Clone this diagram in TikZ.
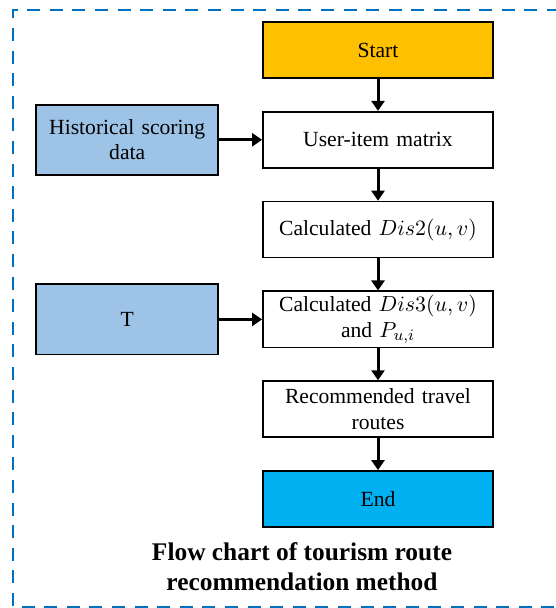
\documentclass[tikz,border=0pt]{standalone}
\usepackage{fontspec}
\setmainfont{Liberation Serif}
\usepackage{amsmath}
\usepackage{xcolor}
\usetikzlibrary{arrows.meta, positioning}
\definecolor{startorange}{HTML}{FFC000}
\definecolor{endblue}{HTML}{00B0F0}
\definecolor{inputblue}{HTML}{9DC3E6}
\definecolor{frameblue}{HTML}{0070C0}

\begin{document}
\begin{tikzpicture}[
  x=1pt, y=1pt,
  node distance=16pt and 21.5pt,
  proc/.style={
    rectangle, draw=black, line width=0.9pt,
    minimum width=115pt, minimum height=28pt,
    text width=108pt, align=center, inner sep=0pt,
    font=\fontsize{10.8}{12.6}\selectfont
  },
  inbox/.style={
    rectangle, draw=black, line width=0.9pt, fill=inputblue,
    minimum width=91pt, minimum height=35pt,
    text width=85pt, align=center, inner sep=0pt,
    font=\fontsize{10.8}{12.6}\selectfont
  },
  arr/.style={-{Triangle[length=5pt, width=6.5pt]}, line width=1.5pt, black},
  frame/.style={draw=frameblue, line width=1.3pt, dash pattern=on 6.5pt off 4.8pt},
  caption/.style={font=\fontsize{12.7}{15}\selectfont\bfseries, align=center}
]
\useasboundingbox (0,0) rectangle (277.5,-304);

%% Dashed frame
\draw[frame] (280,-5) -- (6.5,-5) -- (6.5,-303.5) -- (280,-303.5);

%% Main column
\node[proc, fill=startorange] (start) at (189,-25) {Start};
\node[proc, below=of start] (uim) {User-item matrix};
\node[proc, below=of uim] (dis2) {Calculated $Dis2(u,v)$};
\node[proc, below=of dis2] (dis3) {Calculated $Dis3(u,v)$\\ and $P_{u,i}$};
\node[proc, below=of dis3] (routes) {Recommended travel\\ routes};
\node[proc, fill=endblue, below=of routes] (end) {End};

%% Inputs (left column)
\node[inbox, left=of uim] (hist) {Historical scoring\\ data};
\node[inbox, left=of dis3] (tin) {T};

%% Caption
\node[caption] (title) at (151,-283.5) {Flow chart of tourism route\\ recommendation method};

%% Arrows
\draw[arr] (start) -- (uim);
\draw[arr] (uim) -- (dis2);
\draw[arr] (dis2) -- (dis3);
\draw[arr] (dis3) -- (routes);
\draw[arr] (routes) -- (end);
\draw[arr] (hist) -- (uim);
\draw[arr] (tin) -- (dis3);

\end{tikzpicture}
\end{document}
